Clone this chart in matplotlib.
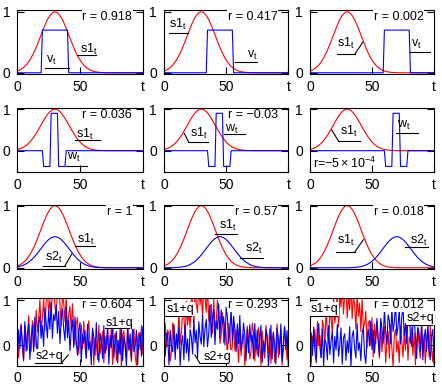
import numpy as np
import matplotlib

matplotlib.use("Agg")
import matplotlib.pyplot as plt

plt.rcParams["font.family"] = ["Liberation Sans", "DejaVu Sans"]
plt.rcParams["mathtext.fontset"] = "custom"
plt.rcParams["mathtext.rm"] = "Liberation Sans"
plt.rcParams["mathtext.it"] = "Liberation Sans"
plt.rcParams["mathtext.default"] = "regular"

RED = "#ff0000"
BLUE = "#0000ff"

# gaussian pulse s1, t = 0..100
s1 = [0.030, 0.037, 0.047, 0.058, 0.071, 0.087, 0.105, 0.127, 0.151, 0.179,
      0.210, 0.244, 0.282, 0.323, 0.368, 0.415, 0.465, 0.517, 0.570, 0.623,
      0.677, 0.729, 0.779, 0.826, 0.869, 0.907, 0.939, 0.965, 0.985, 0.996,
      1.000, 0.996, 0.985, 0.965, 0.939, 0.907, 0.869, 0.826, 0.779, 0.729,
      0.677, 0.623, 0.570, 0.517, 0.465, 0.415, 0.368, 0.323, 0.282, 0.244,
      0.210, 0.179, 0.151, 0.127, 0.105, 0.087, 0.071, 0.058, 0.047, 0.037,
      0.030, 0.023, 0.018, 0.014, 0.011, 0.008, 0.006, 0.005, 0.004, 0.003,
      0.002] + [0.0] * 30

# rectangle v
v_20 = [0.0] * 20 + [0.7] * 21 + [0.0] * 60
v_35 = [0.0] * 35 + [0.7] * 21 + [0.0] * 45
v_60 = [0.0] * 60 + [0.7] * 21 + [0.0] * 20

# wavelet w
w_20 = [0.0] * 21 + [-0.38] * 6 + [0.9] * 6 + [-0.38] * 6 + [0.0] * 62
w_35 = [0.0] * 36 + [-0.38] * 6 + [0.9] * 6 + [-0.38] * 6 + [0.0] * 47
w_60 = [0.0] * 61 + [-0.38] * 6 + [0.9] * 6 + [-0.38] * 6 + [0.0] * 22

# half-height pulse s2 at three delays
s2_30 = [0.015, 0.019, 0.023, 0.029, 0.035, 0.043, 0.053, 0.063, 0.076, 0.089,
         0.105, 0.122, 0.141, 0.161, 0.184, 0.207, 0.232, 0.258, 0.285, 0.311,
         0.338, 0.364, 0.389, 0.413, 0.434, 0.453, 0.469, 0.482, 0.492, 0.498,
         0.500, 0.498, 0.492, 0.482, 0.469, 0.453, 0.434, 0.413, 0.389, 0.364,
         0.338, 0.311, 0.285, 0.258, 0.232, 0.207, 0.184, 0.161, 0.141, 0.122,
         0.105, 0.089, 0.076, 0.063, 0.053, 0.043, 0.035, 0.029, 0.023, 0.019,
         0.015, 0.012, 0.009, 0.007, 0.005, 0.004, 0.003, 0.002, 0.002, 0.001,
         0.001] + [0.0] * 30
s2_45 = [0.0] * 5 + [0.001, 0.001, 0.002, 0.002, 0.003,
                     0.004, 0.005, 0.007, 0.009, 0.012, 0.015, 0.019, 0.023, 0.029, 0.035,
                     0.043, 0.053, 0.063, 0.076, 0.089, 0.105, 0.122, 0.141, 0.161, 0.184,
                     0.207, 0.232, 0.258, 0.285, 0.311, 0.338, 0.364, 0.389, 0.413, 0.434,
                     0.453, 0.469, 0.482, 0.492, 0.498, 0.500, 0.498, 0.492, 0.482, 0.469,
                     0.453, 0.434, 0.413, 0.389, 0.364, 0.338, 0.311, 0.285, 0.258, 0.232,
                     0.207, 0.184, 0.161, 0.141, 0.122, 0.105, 0.089, 0.076, 0.063, 0.053,
                     0.043, 0.035, 0.029, 0.023, 0.019, 0.015, 0.012, 0.009, 0.007, 0.005,
                     0.004, 0.003, 0.002, 0.002, 0.001, 0.001] + [0.0] * 15
s2_70 = [0.0] * 30 + [0.001, 0.001, 0.002, 0.002, 0.003,
                      0.004, 0.005, 0.007, 0.009, 0.012, 0.015, 0.019, 0.023, 0.029, 0.035,
                      0.043, 0.053, 0.063, 0.076, 0.089, 0.105, 0.122, 0.141, 0.161, 0.184,
                      0.207, 0.232, 0.258, 0.285, 0.311, 0.338, 0.364, 0.389, 0.413, 0.434,
                      0.453, 0.469, 0.482, 0.492, 0.498, 0.500, 0.498, 0.492, 0.482, 0.469,
                      0.453, 0.434, 0.413, 0.389, 0.364, 0.338, 0.311, 0.285, 0.258, 0.232,
                      0.207, 0.184, 0.161, 0.141, 0.122, 0.105, 0.089, 0.076, 0.063, 0.053,
                      0.043, 0.035, 0.029, 0.023, 0.019, 0.015]

# noisy signals s1+q and s2+q
s1q_0 = [0.24, -0.28, 0.10, 0.47, -0.05, -0.36, 0.44, 0.21, -0.12, 0.65,
         0.16, -0.14, 0.54, 0.44, -0.04, 0.78, 0.29, 0.54, 1.01, 0.33,
         0.60, 1.04, 0.32, 0.98, 1.26, 0.69, 1.01, 0.62, 1.27, 1.49,
         0.86, 0.69, 1.17, 1.39, 0.91, 0.43, 1.11, 0.94, 0.52, 1.10,
         0.26, 0.68, 0.86, 0.33, 0.92, 0.33, 0.01, 0.49, 0.61, -0.20,
         0.22, 0.45, -0.08, 0.53, -0.05, -0.30, 0.29, 0.54, -0.01, -0.24,
         0.38, -0.45, 0.15, 0.05, -0.32, 0.44, -0.20, 0.10, 0.30, -0.40,
         0.19, -0.11, 0.46, -0.25, -0.02, 0.38, -0.43, 0.16, 0.25, -0.34,
         0.10, -0.17, 0.41, -0.49, 0.20, 0.32, -0.07, -0.30, 0.47, -0.13,
         0.03, -0.37, 0.23, 0.36, -0.24, -0.45, 0.14, 0.28, -0.10, 0.44,
         -0.20]
s2q_0 = [-0.43, 0.34, -0.08, 0.44, 0.09, -0.32, 0.52, -0.14, 0.22, 0.47,
         -0.32, 0.14, 0.43, -0.15, 0.62, 0.14, -0.25, 0.48, 0.64, 0.15,
         0.43, -0.03, 0.82, 0.52, 0.16, 0.76, 0.35, 0.94, 0.15, 0.68,
         0.54, 0.90, 0.26, 0.75, 0.03, 0.57, 0.80, 0.36, 0.10, 0.84,
         0.16, 0.55, -0.13, 0.33, 0.56, -0.05, 0.63, 0.08, -0.23, 0.32,
         0.50, -0.38, 0.23, 0.04, 0.33, -0.29, 0.46, -0.11, 0.08, -0.44,
         0.36, 0.18, -0.23, 0.50, -0.11, -0.38, 0.26, 0.08, -0.30, 0.43,
         -0.19, 0.01, 0.36, -0.43, 0.21, -0.06, 0.47, -0.28, 0.13, 0.30,
         -0.40, 0.10, -0.21, 0.44, -0.35, 0.19, 0.03, -0.47, 0.38, -0.09,
         0.25, -0.32, 0.46, -0.15, -0.01, 0.33, -0.44, 0.16, 0.27, -0.25,
         0.40]
s1q_15 = [-0.17, 0.48, -0.05, 0.34, 0.21, -0.36, -0.14, 0.49, 0.38, -0.19,
          0.24, 0.11, 0.75, 0.02, 0.30, 0.74, 0.67, 0.03, 0.98, 0.45,
          0.78, 0.39, 1.03, 0.99, 0.44, 1.29, 0.92, 0.72, 1.45, 0.89,
          1.19, 0.60, 1.29, 1.06, 0.73, 1.34, 0.54, 0.87, 0.91, 0.26,
          1.03, 0.34, 0.51, 1.00, 0.69, 0.03, 0.22, 0.72, 0.05, 0.51,
          0.22, -0.26, 0.48, 0.30, -0.26, 0.00, 0.52, -0.13, 0.34, 0.10,
          -0.39, 0.39, -0.24, 0.12, 0.25, -0.47, -0.02, 0.42, 0.18, -0.31,
          -0.14, 0.49, 0.28, -0.35, 0.07, -0.22, 0.39, 0.15, -0.46, 0.31,
          -0.08, -0.29, 0.44, 0.02, -0.18, 0.36, -0.41, 0.12, 0.26, -0.38,
          -0.05, 0.47, -0.27, 0.08, 0.33, -0.45, -0.12, 0.41, 0.05, -0.32,
          0.21]
s2q_15 = [0.40, -0.25, 0.27, 0.16, -0.44, 0.33, -0.01, -0.15, 0.46, -0.32,
          0.25, -0.09, 0.39, -0.46, 0.04, 0.21, -0.33, 0.46, -0.18, 0.14,
          -0.36, 0.35, 0.19, -0.20, 0.56, 0.05, 0.33, -0.29, 0.52, 0.19,
          0.02, 0.66, -0.04, 0.37, 0.57, -0.04, 0.25, 0.88, 0.17, 0.60,
          0.79, 0.01, 0.54, 0.35, 0.92, 0.17, 0.78, 0.47, 0.63, 0.00,
          0.84, 0.63, 0.04, 0.31, 0.81, 0.08, 0.64, 0.36, -0.15, 0.47,
          0.03, 0.66, -0.13, 0.09, 0.49, 0.23, -0.35, 0.35, -0.17, 0.45,
          0.08, 0.22, -0.31, 0.48, -0.10, 0.33, -0.26, 0.12, 0.44, -0.39,
          0.09, -0.16, 0.35, 0.22, -0.48, -0.07, 0.44, -0.31, 0.29, 0.02,
          -0.42, 0.38, 0.14, -0.20, 0.47, -0.36, 0.05, 0.41, -0.10, 0.32,
          -0.45]
s1q_40 = [0.42, -0.43, 0.20, 0.04, 0.35, -0.24, 0.53, -0.01, 0.21, -0.28,
          0.55, 0.41, 0.04, 0.81, 0.26, 0.04, 0.73, 0.60, 0.27, 1.05,
          0.49, 0.74, 1.14, 0.40, 1.08, 0.85, 1.41, 0.69, 1.12, 1.30,
          0.60, 1.10, 0.78, 1.41, 0.59, 1.10, 0.90, 0.36, 1.16, 0.64,
          0.93, 0.30, 1.03, 0.37, 0.46, 0.75, -0.07, 0.48, 0.55, -0.01,
          0.61, -0.27, 0.47, 0.03, 0.52, 0.14, -0.29, 0.53, -0.15, 0.18,
          0.41, -0.40, 0.04, 0.30, -0.30, 0.45, -0.06, -0.48, 0.22, 0.35,
          -0.16, 0.09, -0.39, 0.43, 0.11, -0.27, 0.31, -0.12, 0.46, -0.34,
          0.18, 0.04, 0.40, -0.23, 0.27, -0.44, 0.12, 0.37, -0.05, -0.29,
          0.48, -0.18, 0.24, -0.41, 0.07, 0.33, -0.26, 0.45, -0.08, -0.37,
          0.20]
s2q_40 = [0.01, 0.27, -0.23, 0.40, -0.15, -0.39, 0.22, 0.48, -0.06, -0.28,
          0.35, -0.47, 0.13, 0.04, -0.33, 0.43, -0.21, 0.09, 0.30, -0.40,
          0.19, -0.11, 0.46, -0.25, -0.02, 0.38, -0.43, 0.16, 0.25, -0.34,
          0.10, -0.17, 0.41, -0.49, 0.20, 0.32, -0.07, -0.29, 0.48, -0.12,
          0.05, -0.35, 0.25, 0.39, -0.21, -0.41, 0.19, 0.34, -0.02, 0.53,
          -0.10, 0.33, -0.18, 0.21, 0.59, 0.09, -0.22, 0.59, 0.37, 0.04,
          0.81, 0.31, 0.01, 0.67, 0.55, 0.04, 0.83, 0.30, 0.51, 0.94,
          0.21, 0.42, 0.80, 0.02, 0.62, 0.84, 0.21, 0.48, 0.04, 0.64,
          0.83, 0.17, -0.03, 0.44, 0.65, 0.18, -0.30, 0.40, 0.25, -0.14,
          0.48, -0.33, 0.14, 0.35, -0.14, 0.49, -0.06, -0.33, 0.19, 0.35,
          -0.43]

r_labels = ["0.918", "0.417", "0.002",
            "0.036", "\u22120.03", None,
            "1", "0.57", "0.018",
            "0.604", "0.293", "0.012"]

# pixel boxes of the plot frames
COLS = [(17.3, 142.7), (164.0, 288.3), (310.0, 434.0)]
ROWS = [(10.0, 74.0), (108.3, 172.3), (205.0, 269.0), (298.3, 365.7)]
YLIMS = [(-0.02, 1.03), (-0.52, 1.02), (-0.02, 1.01), (-0.46, 1.04)]
W, H = 442, 389

S1 = "s1$_t$"
S2 = "s2$_t$"
V = "v$_t$"
WT = "w$_t$"

# (red, blue, labels) ; label = (text, x, y, underline x0, x1, y, leader end or None)
panels = [
    (s1, v_20, [(S1, 50, 0.33, 48, 63, 0.29, None),
                (V, 22.6, 0.16, 22, 41, 0.08, None)]),
    (s1, v_35, [(S1, 4, 0.73, 4, 19.5, 0.66, None),
                (V, 66.5, 0.24, 57, 74.6, 0.18, None)]),
    (s1, v_60, [(S1, 21.5, 0.43, 21.5, 36.3, 0.31, (42.5, 0.5)),
                (V, 81.2, 0.43, 81, 96.8, 0.34, None)]),
    (s1, w_20, [(S1, 46.8, 0.31, 46, 66, 0.26, None),
                (WT, 39.4, -0.22, 38.6, 55.8, -0.37, None)]),
    (s1, w_35, [(S1, 21, 0.34, 19.6, 35.7, 0.22, (16.3, 0.42)),
                (WT, 49, 0.46, 48, 65, 0.39, None)]),
    (s1, w_60, [(S1, 24.2, 0.38, 22.8, 40.3, 0.24, (17.5, 0.5)),
                (WT, 70, 0.54, 69.3, 87.3, 0.43, None)]),
    (s1, s2_30, [(S1, 47.8, 0.40, 46, 62, 0.35, None),
                 (S2, 22, 0.11, 20.7, 38, 0.03, (43.4, 0.22))]),
    (s1, s2_45, [(S1, 44.2, 0.62, 41, 58.5, 0.55, None),
                 (S2, 65.2, 0.26, 61, 80, 0.16, None)]),
    (s1, s2_70, [(S1, 21.5, 0.38, 21, 36, 0.25, (43, 0.45)),
                 (S2, 80.6, 0.39, 76.6, 95, 0.33, None)]),
    (s1q_0, s2q_0, [("s1+q", 70.7, 0.43, 70, 89.3, 0.37, None),
                    ("s2+q", 14.9, -0.31, 14, 35.4, -0.39, (40.7, -0.22))]),
    (s1q_15, s2q_15, [("s1+q", 2.1, 0.74, 0.8, 22, 0.65, None),
                      ("s2+q", 31.6, -0.33, 28.9, 51.2, -0.41, (24.9, -0.22))]),
    (s1q_40, s2q_40, [("s1+q", 0.8, 0.74, 0.5, 22, 0.65, None),
                      ("s2+q", 78, 0.53, 76.6, 98, 0.44, None)]),
]

fig = plt.figure(figsize=(W / 100, H / 100), dpi=100)

for i, (red, blue, labels) in enumerate(panels):
    row, col = divmod(i, 3)
    x0, x1 = COLS[col]
    y0, y1 = ROWS[row]
    ax = fig.add_axes([x0 / W, 1 - y1 / H, (x1 - x0) / W, (y1 - y0) / H])
    t = np.arange(len(red))
    ax.plot(t, red, color=RED, lw=0.8)
    ax.plot(np.arange(len(blue)), blue, color=BLUE, lw=0.8)
    ax.set_xlim(0, 100)
    ax.set_ylim(*YLIMS[row])
    ax.set_xticks([0, 50, 100])
    ax.set_xticklabels(["0", "50", "t"])
    ax.set_yticks([0, 1])
    ax.set_yticklabels(["0", "1"])
    ax.tick_params(axis="y", direction="in", length=5, width=0.8, left=True,
                   right=True, labelsize=10, pad=5)
    ax.tick_params(axis="x", direction="in", length=5, width=0.8, top=False,
                   labelsize=10, pad=4)
    for sp in ax.spines.values():
        sp.set_linewidth(0.8)

    noisy = row == 3
    for text, tx, ty, ux0, ux1, uy, lead in labels:
        kw = {}
        if noisy:
            kw["bbox"] = dict(facecolor="white", edgecolor="none", pad=0.5)
        ax.text(tx, ty, text, fontsize=9, ha="left", va="baseline", zorder=5, **kw)
        ax.plot([ux0, ux1], [uy, uy], color="black", lw=0.8, zorder=6)
        if lead is not None:
            ex = ux1 if lead[0] > ux1 else ux0
            ax.plot([ex, lead[0]], [uy, lead[1]], color="black", lw=0.8, zorder=6)

    r = r_labels[i]
    box_h = y1 - y0
    if r is not None:
        ax.text(0.915, 1 - 7 / box_h, "r = " + r, transform=ax.transAxes,
                fontsize=9, ha="right", va="center", zorder=7,
                bbox=dict(facecolor="white", edgecolor="none", pad=0.5))
    else:
        ax.text(2.5, -0.42, "r=$\u22125\\times10^{\u22124}$", fontsize=9,
                ha="left", va="baseline", zorder=7)

fig.savefig("out.png", dpi=100)
